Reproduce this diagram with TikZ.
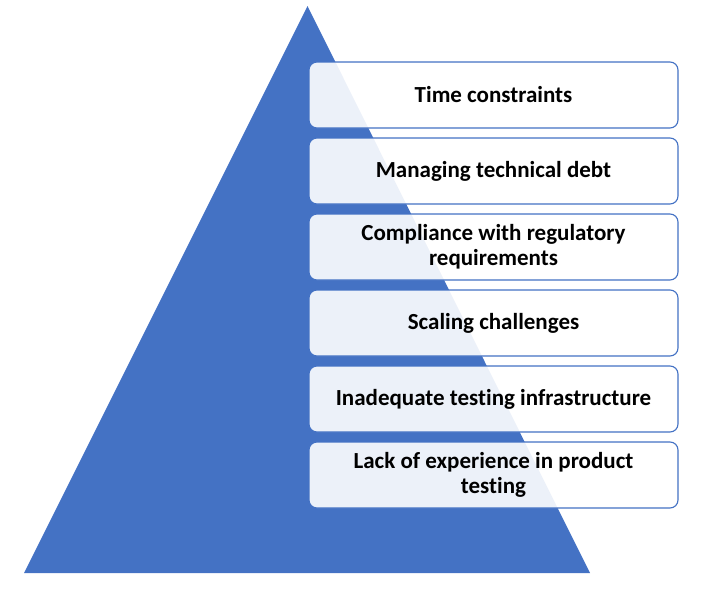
\documentclass[tikz,border=0pt]{standalone}
\usepackage{fontspec}
\setmainfont[Ligatures=NoCommon]{Carlito}
\usepackage{tikz}

\definecolor{pyrblue}{HTML}{4472C4}
\tikzset{
  barrier/.style={draw=pyrblue, line width=1.1pt, fill=white, fill opacity=.9, text opacity=1,
    rounded corners=8pt, minimum width=369pt, minimum height=66pt, inner sep=0pt,
    align=center, font=\fontsize{23}{25}\selectfont\bfseries}
}

\begin{document}
\begin{tikzpicture}[x=1pt, y=-1pt]
			\useasboundingbox (0,0) rectangle (705,597);
			\fill[pyrblue] (24,573)--(307.5,6)--(590,573)--cycle;
			
			\node[barrier] (time) at (493.5,95){Time constraints};
			\node[barrier] (debt) at (493.5,171){Managing technical debt};
			\node[barrier] (compliance) at (493.5,247){Compliance with regulatory\\requirements};
			\node[barrier] (scaling) at (493.5,323){Scaling challenges};
			\node[barrier] (infra) at (493.5,399){Inadequate testing infrastructure};
			\node[barrier] (experience) at (493.5,475){Lack of experience in product\\testing};
		\end{tikzpicture}
\end{document}
